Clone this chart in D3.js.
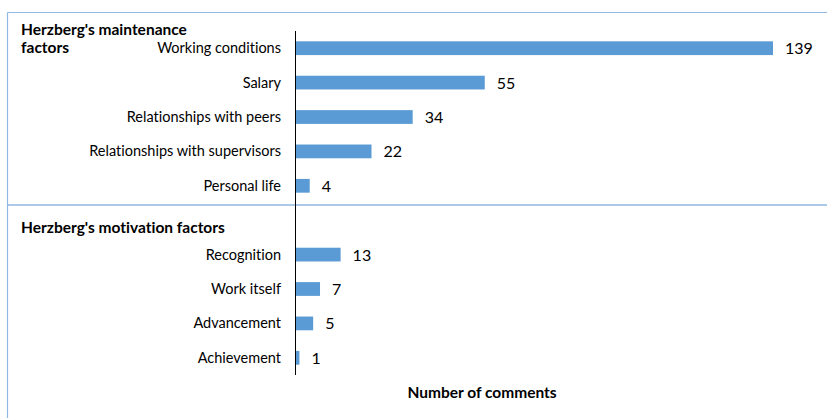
<!DOCTYPE html>
<html>
<head>
<meta charset="utf-8">
<script src="https://cdn.jsdelivr.net/npm/d3@7"></script>
<style>
body { margin: 0; background: #fff; }
svg text { font-family: Lato, "Open Sans", sans-serif; fill: #000; font-variant-ligatures: none; }
</style>
</head>
<body>
<div id="chart"></div>
<script>
// rows top to bottom, "" is the gap row before the motivation group
const categories = ["Working conditions", "Salary", "Relationships with peers",
  "Relationships with supervisors", "Personal life", "",
  "Recognition", "Work itself", "Advancement", "Achievement"];
const values = [139, 55, 34, 22, 4, null, 13, 7, 5, 1];

const W = 827, H = 418;
const svg = d3.select("#chart").append("svg")
  .attr("width", W).attr("height", H);

const x = d3.scaleLinear().domain([0, 139]).range([296, 773]);
const y = d3.scaleBand().domain(d3.range(categories.length))
  .range([31, 375]).paddingInner(0.6).paddingOuter(0.3);

// frame lines
const line = "#8fb8e3";
svg.append("line").attr("x1", 7.5).attr("x2", W).attr("y1", 12.5).attr("y2", 12.5)
  .attr("stroke", line).attr("stroke-width", 1.2);
svg.append("line").attr("x1", 7.5).attr("x2", 7.5).attr("y1", 12.5).attr("y2", H)
  .attr("stroke", line).attr("stroke-width", 1.2);
svg.append("line").attr("x1", 7.5).attr("x2", W).attr("y1", 205).attr("y2", 205)
  .attr("stroke", line).attr("stroke-width", 1.5);

const rows = categories.map((c, i) => ({c, v: values[i], i})).filter(d => d.v != null);

svg.selectAll("rect.bar").data(rows).enter().append("rect")
  .attr("class", "bar")
  .attr("x", x(0))
  .attr("y", d => y(d.i))
  .attr("width", d => x(d.v) - x(0))
  .attr("height", y.bandwidth())
  .attr("fill", "#5b9bd5");

svg.selectAll("text.cat").data(rows).enter().append("text")
  .attr("class", "cat")
  .attr("x", 281)
  .attr("y", d => y(d.i) + y.bandwidth() / 2)
  .attr("dy", "0.35em")
  .attr("text-anchor", "end")
  .style("font-size", "14.5px")
  .text(d => d.c);

svg.selectAll("text.val").data(rows).enter().append("text")
  .attr("class", "val")
  .attr("x", d => x(d.v) + 12)
  .attr("y", d => y(d.i) + y.bandwidth() / 2)
  .attr("dy", "0.38em")
  .style("font-size", "16px")
  .text(d => d.v);

// axis line
svg.append("line").attr("x1", 295.5).attr("x2", 295.5).attr("y1", 31).attr("y2", 375)
  .attr("stroke", "#000").attr("stroke-width", 1);

const bold = (t, tx, ty) => svg.append("text").attr("x", tx).attr("y", ty)
  .style("font-size", "15.5px").style("font-weight", "bold").text(t);
bold("Herzberg's maintenance", 21, 35);
bold("factors", 21, 53);
bold("Herzberg's motivation factors", 21, 233);

svg.append("text").attr("x", 482).attr("y", 398).attr("text-anchor", "middle")
  .style("font-size", "15.5px").style("font-weight", "bold").text("Number of comments");
</script>
</body>
</html>
